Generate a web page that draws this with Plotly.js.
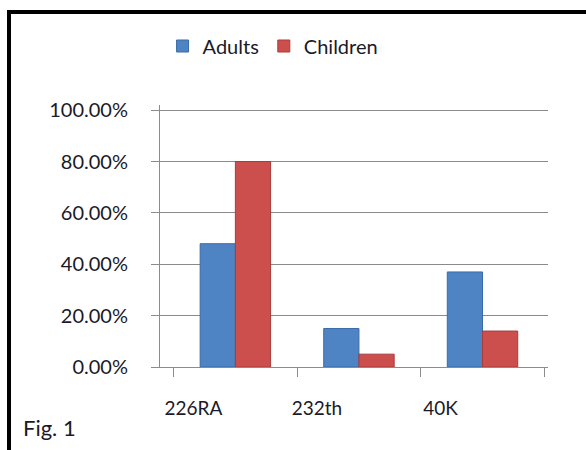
<!DOCTYPE html>
<html>
<head>
<meta charset="utf-8">
<script src="https://cdn.plot.ly/plotly-3.0.1.min.js"></script>
<style>
html,body{margin:0;padding:0;background:#fff;overflow:hidden;}
#chart{width:586px;height:450px;position:absolute;left:0;top:0;}
#frame{position:absolute;left:7px;top:10px;width:700px;height:600px;border:4px solid #000;pointer-events:none;box-sizing:border-box;}
#fig{position:absolute;left:23px;top:414px;font-family:Lato,sans-serif;font-size:22px;color:#1a1a28;}
</style>
</head>
<body>
<div id="chart"></div>
<div id="frame"></div>
<div id="fig">Fig. 1</div>
<script>
const categories = ["226RA", "232th", "40K"];
const adults = [0.48, 0.15, 0.37];
const children = [0.80, 0.05, 0.14];
const seriesNames = ["Adults", "Children"];

const textColor = "#1a1a28";
const data = [
  {type: "bar", name: seriesNames[0], x: categories, y: adults,
   marker: {color: "#4f84c4", line: {color: "#3a6aa6", width: 1}}},
  {type: "bar", name: seriesNames[1], x: categories, y: children,
   marker: {color: "#cc4f4d", line: {color: "#a83c3a", width: 1}}}
];
const layout = {
  width: 586, height: 450,
  paper_bgcolor: "rgba(0,0,0,0)", plot_bgcolor: "rgba(0,0,0,0)",
  margin: {l: 160, r: 38, t: 105, b: 83},
  font: {family: "Lato, sans-serif", size: 19, color: textColor},
  barmode: "group", bargap: 0.43, bargroupgap: 0,
  showlegend: true,
  legend: {orientation: "h", xref: "container", yref: "container",
           x: 0.466, xanchor: "center", y: 1 - 46/450, yanchor: "middle",
           font: {size: 20, color: textColor}, traceorder: "normal"},
  xaxis: {type: "category", range: [-0.61, 2.53], showline: true, linecolor: "#8c8c8c", linewidth: 1,
          ticks: "outside", tickson: "boundaries", ticklen: 9, tickcolor: "#8c8c8c",
          ticklabelstandoff: 24, ticklabelshift: -42,
          tickfont: {size: 19, color: textColor}, showgrid: false},
  yaxis: {range: [0, 1.02], tickvals: [0, 0.2, 0.4, 0.6, 0.8, 1.0], tickformat: ".2%", showline: true,
          linecolor: "#8c8c8c", linewidth: 1, ticks: "outside", ticklen: 8,
          tickcolor: "#8c8c8c", showgrid: true, gridcolor: "#8a8a8a", gridwidth: 1,
          zeroline: false, tickfont: {size: 20, color: textColor}, ticklabelstandoff: 19}
};
Plotly.newPlot("chart", data, layout, {staticPlot: true, displayModeBar: false});
</script>
</body>
</html>
